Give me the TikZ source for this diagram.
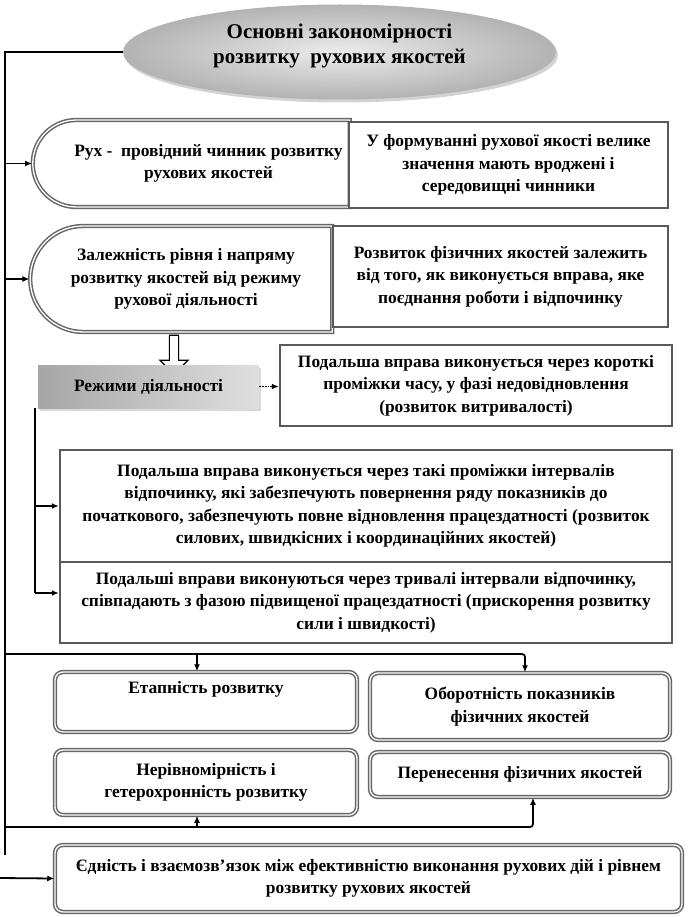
\documentclass[tikz,border=0pt]{standalone}
\usepackage{fontspec}
\setmainfont{Liberation Serif}
\usetikzlibrary{positioning,arrows.meta,shapes.geometric,shapes.misc,shapes.arrows,shadows}

\tikzset{
  txt/.style={
    font=\fontsize{17.4}{22.5}\selectfont\bfseries,
    align=center,
    inner sep=0pt
  },
  plainbox/.style={
    txt,
    draw=black!65,
    line width=2.4pt,
    fill=white
  },
  dblbox/.style={
    txt,
    draw=black!60,
    double=white,
    double distance=1.3pt,
    line width=1.5pt,
    fill=white,
    rounded corners=8pt
  },
  halfbox/.style={
    txt,
    rounded rectangle,
    rounded rectangle right arc=none,
    draw=black!60,
    double=white,
    double distance=1.3pt,
    line width=1.5pt,
    fill=white
  },
  trunk/.style={
    line width=2pt
  },
  link/.style={
    line width=1.8pt,
    -{Latex[length=7pt,width=6pt]}
  },
}

\begin{document}
\begin{tikzpicture}[x=1pt,y=-1pt]
  \useasboundingbox (0,0) rectangle (690,917);

  % main line on the left
  \coordinate (t1) at (5,855);
  \coordinate (c0) at (5,654);
  \coordinate (d0) at (5,827);
  \coordinate (e0) at (0,878);

  \node[ellipse, minimum width=433, minimum height=95, inner color=gray!15, outer color=gray!60,
        drop shadow={opacity=0.35, shadow xshift=2pt, shadow yshift=-3pt}]
        (ell) at (339.5,52) {};
  \node[font=\fontsize{21}{25}\selectfont\bfseries, align=center, inner sep=0pt]
        (ellt) at ([yshift=6pt]ell.center) {Основні закономірності\\розвитку\ \ рухових якостей};
  \draw[trunk] (ell.west) -| (t1);

  % upper blocks
  \node[halfbox, minimum width=317, minimum height=87] (ruh) at (193.5,163.5) {\hspace*{30pt}Рух -\ \ провідний чинник розвитку\\\hspace*{30pt}рухових якостей};
  \node[plainbox, minimum width=319, minimum height=86] (ruhb) at (508.5,165) {У формуванні рухової якості велике\\значення мають вроджені і\\середовищні чинники};

  \node[halfbox, minimum width=302, minimum height=106] (zal) at (186,279) {Залежність рівня і напряму\\розвитку якостей від режиму\\рухової діяльності};
  \node[plainbox, minimum width=335, minimum height=101] (zalb) at (500.5,276.5) {Розвиток фізичних якостей залежить\\від того, як виконується вправа, яке\\поєднання роботи і відпочинку};

  \draw[link] (t1 |- ruh.west) -- (ruh.west);
  \draw[link] (t1 |- zal.west) -- (zal.west);

  % modes of activity
  \node[single arrow, draw, fill=white, line width=1.2pt, shape border rotate=270,
        minimum width=28, minimum height=39, single arrow head extend=8pt,
        single arrow head indent=0pt] (hol) at (174,352.5) {};

  \node[txt, minimum width=221, minimum height=43, left color=gray!70, right color=gray!25,
        drop shadow={opacity=0.3, shadow xshift=2pt, shadow yshift=-3pt}]
        (rez) at (148.5,386.5) {Режими діяльності};
  \node[plainbox, minimum width=392, minimum height=81] (kor) at (476,385.5) {Подальша вправа виконується через короткі\\проміжки часу, у фазі недовідновлення\\(розвиток витривалості)};
  \draw[link, densely dotted] (rez.east) -- (rez.east -| kor.west);

  \node[plainbox, minimum width=612, minimum height=112] (tak) at (366,506) {Подальша вправа виконується через такі проміжки інтервалів\\відпочинку, які забезпечують повернення ряду показників до\\початкового, забезпечують повне відновлення працездатності (розвиток\\силових, швидкісних і координаційних якостей)};
  \node[plainbox, minimum width=612, minimum height=81] (tri) at (366,602.5) {Подальші вправи виконуються через тривалі інтервали відпочинку,\\співпадають з фазою підвищеної працездатності (прискорення розвитку\\сили і швидкості)};

  \coordinate (b0) at (35,408);
  \coordinate (b1) at (35,593);
  \draw[line width=1.5pt] (b0) -- (b1);
  \draw[link] (b0 |- tak.west) -- (tak.west);
  \draw[link] (b1) -- (b1 -| tri.west);

  % lower blocks
  \node[dblbox, minimum width=302, minimum height=60] (eta) at (206,702) {Етапність розвитку\\\strut};
  \node[dblbox, minimum width=300, minimum height=67] (obo) at (520,706.5) {Оборотність показників\\фізичних якостей};
  \node[dblbox, minimum width=302, minimum height=65] (ner) at (206,782.5) {Нерівномірність і\\гетерохронність розвитку};
  \node[dblbox, minimum width=300, minimum height=45] (per) at (520,774.5) {Перенесення фізичних якостей};

  \coordinate (etaN) at ([xshift=-9pt]eta.north);
  \coordinate (oboN) at ([xshift=5pt]obo.north);
  \coordinate (nerS) at ([xshift=-9pt]ner.south);
  \coordinate (perS) at ([xshift=13pt]per.south);
  \draw[link, rounded corners=3pt] (c0) -| (oboN);
  \draw[link] (c0 -| etaN) -- (etaN);
  \draw[link, rounded corners=3pt] (d0) -| (perS);
  \draw[link] (d0 -| nerS) -- (nerS);

  \node[dblbox, minimum width=627, minimum height=67] (edn) at (368.5,878.5) {Єдність і взаємозв'язок між ефективністю виконання рухових дій і рівнем\\розвитку рухових якостей};
  \draw[link] (e0) -- (edn.west);
\end{tikzpicture}
\end{document}
